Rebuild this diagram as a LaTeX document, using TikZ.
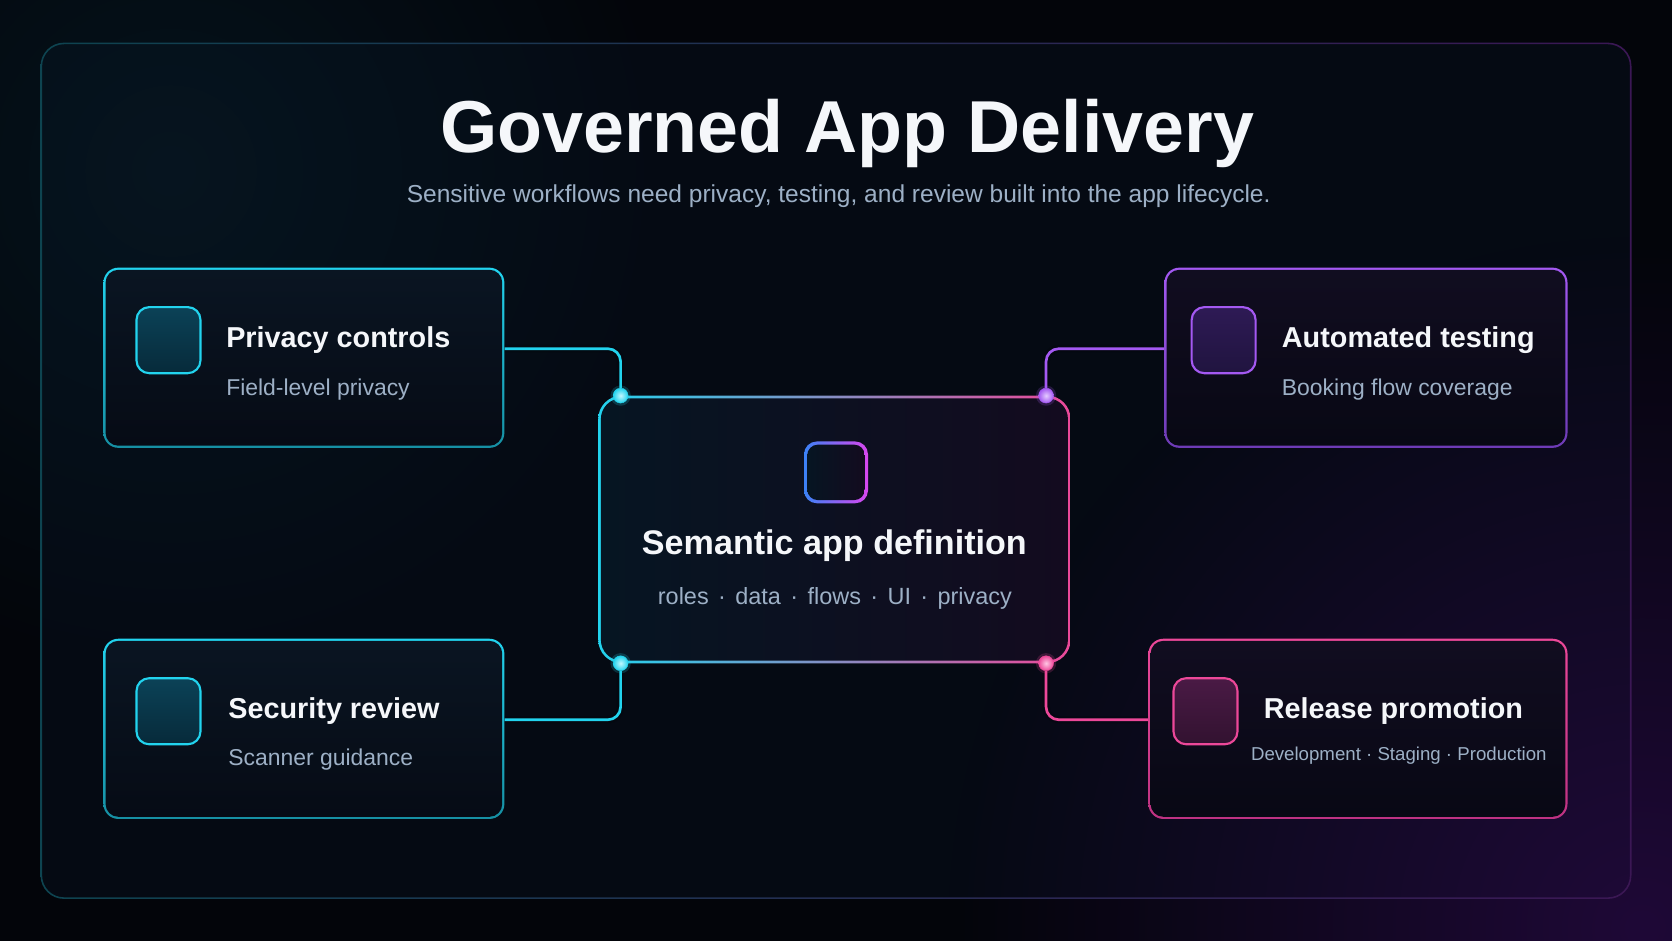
\documentclass[tikz,border=0pt]{standalone}
\usepackage{fontspec}
\setmainfont{Liberation Sans}
\usetikzlibrary{fadings}

\definecolor{bgout}{HTML}{03050A}
\definecolor{framefill}{HTML}{050A13}
\definecolor{framel}{HTML}{0E4450}
\definecolor{framer}{HTML}{3B1754}
\definecolor{glowp}{HTML}{22093C}
\definecolor{glowc}{HTML}{071C28}
\definecolor{textw}{HTML}{F5F7FA}
\definecolor{textsub}{HTML}{9DB0C6}
\definecolor{cyanc}{HTML}{22D3EE}
\definecolor{cyandim}{HTML}{168FA3}
\definecolor{cyanlight}{HTML}{C2F7FF}
\definecolor{purplec}{HTML}{A459F2}
\definecolor{purpledim}{HTML}{6D3BB5}
\definecolor{purplelight}{HTML}{E4CCFF}
\definecolor{pinkc}{HTML}{EC4899}
\definecolor{pinkdim}{HTML}{BE3282}
\definecolor{pinklight}{HTML}{FFC6E4}
\definecolor{violetc}{HTML}{8B7CF6}
\definecolor{bluec}{HTML}{3B82F6}
\definecolor{magc}{HTML}{D946EF}
\definecolor{cardtop}{HTML}{0A1522}
\definecolor{cardbot}{HTML}{060B15}
\definecolor{cardptop}{HTML}{110D20}
\definecolor{cardpbot}{HTML}{080814}
\definecolor{tealtop}{HTML}{0B4257}
\definecolor{tealbot}{HTML}{072A3A}
\definecolor{plumtop}{HTML}{2E1A55}
\definecolor{plumbot}{HTML}{20143F}
\definecolor{rosetop}{HTML}{4A1A45}
\definecolor{rosebot}{HTML}{321230}
\definecolor{coreleft}{HTML}{061522}
\definecolor{coreright}{HTML}{130B1F}

\tikzfading[name=glowfade, inner color=transparent!0, outer color=transparent!100]

\newcommand{\sepdot}{\hspace{0.4em}·\hspace{0.4em}}

\tikzset{
    card/.style={shape=rectangle, rounded corners=14pt, minimum width=376pt, minimum height=169pt, inner sep=0pt},
    cardin/.style={shape=rectangle, rounded corners=12pt, minimum width=372pt, minimum height=165pt, inner sep=0pt, top color=cardtop, bottom color=cardbot},
    icon/.style={shape=rectangle, rounded corners=12pt, minimum width=60pt, minimum height=62pt, inner sep=0pt, line width=2pt},
    heading/.style={anchor=base west, inner sep=0pt, text=textw, font=\fontsize{27}{32}\selectfont\bfseries},
    caption/.style={anchor=base west, inner sep=0pt, text=textsub, font=\fontsize{21.5}{26}\selectfont},
    wire/.style={line width=2.5pt, rounded corners=12pt, preaction={draw, line width=7pt, opacity=0.15}},
    joint/.style={shape=circle, minimum size=14pt, inner sep=0pt, preaction={draw, line width=5pt, opacity=0.2}}
}

\begin{document}
\begin{tikzpicture} [x=1pt, y=-1pt, line join=round]
        \useasboundingbox (0, 0) rectangle (1568, 882);
        \fill [bgout] (0, 0) rectangle (1568, 882);
        \fill [framefill, rounded corners=22pt] (38, 40) rectangle (1530, 843);
        \fill [glowp, path fading=glowfade, fill opacity=0.9] (1540, 870) circle [radius=650];
        \fill [glowc, path fading=glowfade, fill opacity=0.6] (160, 160) circle [radius=480];
        \shade [even odd rule, left color=framel, right color=framer] [rounded corners=22pt] (38, 40) rectangle (1530, 843) [rounded corners=20.5pt] (39.5, 41.5) rectangle (1528.5, 841.5);

        % heading
        \node [anchor=base, inner sep=0pt, text=textw, font=\fontsize{69}{80}\selectfont\bfseries] (title) at (794.5, 143) {Governed App Delivery};
        \node [anchor=base, inner sep=0pt, text=textsub, font=\fontsize{23}{28}\selectfont] (subtitle) at (786.5, 190) {Sensitive workflows need privacy, testing, and review built into the app lifecycle.};

        % left cards
        \node [card, top color=cyanc, bottom color=cyandim] (privacy) at (285, 335.5) {};
        \node [cardin] (privacyin) at (privacy) {};
        \node [icon, draw=cyanc, top color=tealtop, bottom color=tealbot] (privacyicon) at (158, 319) {};
        \node [heading] (privacytitle) at (212, 326) {Privacy controls};
        \node [caption] (privacytext) at (212, 371) {Field-level privacy};

        \node [card, top color=cyanc, bottom color=cyandim] (security) at (285, 683.5) {};
        \node [cardin] (securityin) at (security) {};
        \node [icon, draw=cyanc, top color=tealtop, bottom color=tealbot] (securityicon) at (158, 667) {};
        \node [heading] (securitytitle) at (214, 674) {Security review};
        \node [caption] (securitytext) at (214, 718) {Scanner guidance};

        % right cards
        \node [card, minimum width=378pt, top color=purplec, bottom color=purpledim] (testing) at (1281, 335.5) {};
        \node [cardin, minimum width=374pt, top color=cardptop, bottom color=cardpbot] (testingin) at (testing) {};
        \node [icon, draw=purplec, top color=plumtop, bottom color=plumbot] (testingicon) at (1147.5, 319) {};
        \node [heading] (testingtitle) at (1202, 326) {Automated testing};
        \node [caption] (testingtext) at (1202, 371) {Booking flow coverage};

        \node [card, minimum width=393pt, top color=pinkc, bottom color=pinkdim] (release) at (1273.5, 683.5) {};
        \node [cardin, minimum width=389pt, top color=cardptop, bottom color=cardpbot] (releasein) at (release) {};
        \node [icon, draw=pinkc, top color=rosetop, bottom color=rosebot] (releaseicon) at (1130.5, 667) {};
        \node [heading] (releasetitle) at (1185, 674) {Release promotion};
        \node [caption, font=\fontsize{17.5}{21}\selectfont] (releasetext) at (1173, 713) {Development · Staging · Production};

        % core
        \node [shape=rectangle, rounded corners=22pt, minimum width=443pt, minimum height=251pt, inner sep=0pt, left color=cyanc, middle color=violetc, right color=pinkc] (core) at (782.5, 496.5) {};
        \node [shape=rectangle, rounded corners=19.5pt, minimum width=438pt, minimum height=246pt, inner sep=0pt, left color=coreleft, right color=coreright] (corein) at (core) {};
        \node [icon, minimum height=58pt, left color=bluec, right color=magc] (coreicon) at (784, 443) {};
        \node [icon, rounded corners=10pt, minimum width=54pt, minimum height=52pt, left color=coreleft, right color=coreright] (coreiconin) at (coreicon) {};
        \node [anchor=base, inner sep=0pt, text=textw, font=\fontsize{32}{38}\selectfont\bfseries] (coretitle) at (782.5, 520) {Semantic app definition};
        \node [anchor=base, inner sep=0pt, text=textsub, font=\fontsize{22}{26}\selectfont] (coretext) at (783, 567) {roles\sepdot data\sepdot flows\sepdot UI\sepdot privacy};

        \node [joint, draw=cyanc, inner color=cyanlight, outer color=cyanc] (jointnw) at (582, 371) {};
        \node [joint, draw=purplec, inner color=purplelight, outer color=purplec] (jointne) at (981, 371) {};
        \node [joint, draw=cyanc, inner color=cyanlight, outer color=cyanc] (jointsw) at (582, 622) {};
        \node [joint, draw=pinkc, inner color=pinklight, outer color=pinkc] (jointse) at (981, 622) {};

        % wires
        \draw [wire, cyanc] ([yshift=8.5pt]privacy.east) -| (jointnw);
        \draw [wire, cyanc] ([yshift=8.5pt]security.east) -| (jointsw);
        \draw [wire, purplec] ([yshift=8.5pt]testing.west) -| (jointne);
        \draw [wire, pinkc] ([yshift=8.5pt]release.west) -| (jointse);
    \end{tikzpicture}
\end{document}
